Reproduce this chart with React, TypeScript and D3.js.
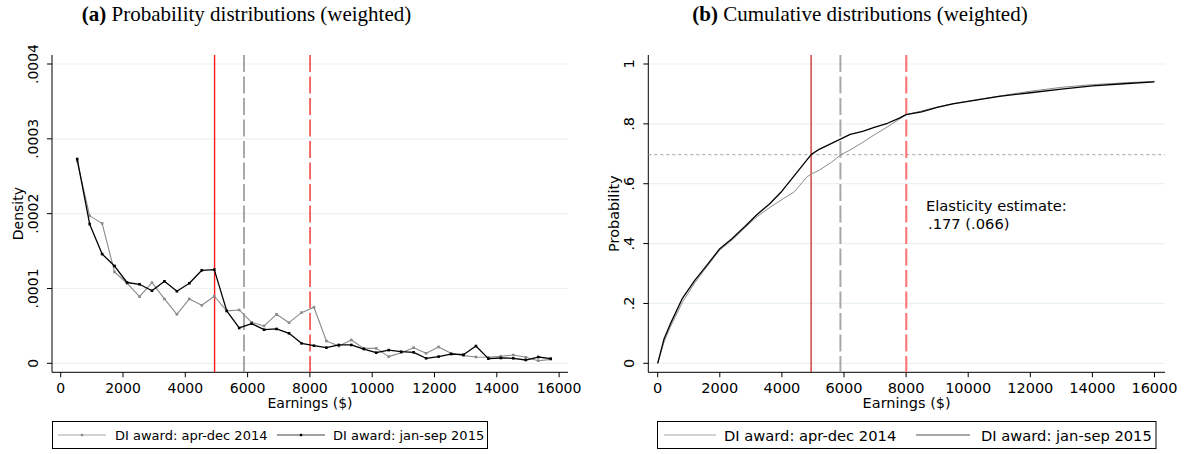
import React, { useEffect, useRef } from "react";
import * as d3 from "d3";

// bin midpoints for the density panel (earnings, $)
const densityEarnings = [
  530, 930, 1330, 1730, 2130, 2530, 2930, 3330, 3730, 4130, 4530, 4930, 5330,
  5730, 6130, 6530, 6930, 7330, 7730, 8130, 8530, 8930, 9330, 9730, 10130,
  10530, 10930, 11330, 11730, 12130, 12530, 12930, 13330, 13730, 14130, 14530,
  14930, 15330, 15730,
];
const density2014 = [
  0.00027, 0.000197, 0.000187, 0.000122, 0.000107, 0.000089, 0.0001078,
  0.000086, 0.0000655, 0.000086, 0.0000775, 0.0000896, 0.00007, 0.0000713,
  0.0000548, 0.0000499, 0.0000655, 0.0000543, 0.0000677, 0.0000749, 0.0000298,
  0.0000231, 0.0000311, 0.00002, 0.00002, 0.0000089, 0.0000142, 0.0000209,
  0.0000134, 0.0000218, 0.0000134, 0.0000102, 0.0000084, 0.000008, 0.0000094,
  0.0000111, 0.000008, 0.0000035, 0.0000053,
];
const density2015 = [
  0.000273, 0.000186, 0.000146, 0.00013, 0.000108, 0.0001056, 0.000097,
  0.0001096, 0.0000963, 0.000107, 0.0001243, 0.0001252, 0.00007, 0.0000472,
  0.000053, 0.0000449, 0.0000459, 0.0000401, 0.0000267, 0.0000235, 0.0000209,
  0.0000245, 0.0000245, 0.0000191, 0.0000142, 0.0000176, 0.0000155, 0.0000147,
  0.0000067, 0.0000089, 0.0000124, 0.0000115, 0.0000231, 0.0000062, 0.0000071,
  0.0000067, 0.0000044, 0.0000084, 0.0000062,
];

// cumulative distributions
const cdfEarnings = [
  0, 200, 400, 800, 1200, 1600, 2000, 2400, 2800, 3200, 3600, 4000, 4400, 4800,
  4950, 5200, 5600, 5900, 6200, 6600, 7000, 7400, 7800, 8000, 8500, 9000, 9500,
  10000, 11000, 12000, 13000, 14000, 15000, 16000,
];
const cdf2014 = [
  0, 0.07, 0.12, 0.205, 0.27, 0.325, 0.378, 0.412, 0.452, 0.49, 0.52, 0.547,
  0.573, 0.622, 0.633, 0.645, 0.672, 0.697, 0.713, 0.738, 0.765, 0.79, 0.817,
  0.831, 0.843, 0.856, 0.867, 0.876, 0.893, 0.909, 0.922, 0.931, 0.937, 0.942,
];
const cdf2015 = [
  0, 0.08, 0.13, 0.218, 0.278, 0.33, 0.383, 0.417, 0.456, 0.497, 0.532, 0.575,
  0.627, 0.679, 0.698, 0.715, 0.735, 0.75, 0.765, 0.775, 0.789, 0.802, 0.82,
  0.831, 0.84, 0.855, 0.867, 0.875, 0.892, 0.904, 0.916, 0.927, 0.934, 0.94,
];

const earningsTicks = [0, 2000, 4000, 6000, 8000, 10000, 12000, 14000, 16000];
const densityTicks = [0, 0.0001, 0.0002, 0.0003, 0.0004];
const densityTickLabels = ["0", ".0001", ".0002", ".0003", ".0004"];
const probTicks = [0, 0.2, 0.4, 0.6, 0.8, 1];
const probTickLabels = ["0", ".2", ".4", ".6", ".8", "1"];
const seriesLabels = ["DI award: apr-dec 2014", "DI award: jan-sep 2015"];

const sgaLine = 4940;
const meanLine = 5885;
const kinkLine = 8005;
const cutoffProb = 0.697;

const SANS = "DejaVu Sans, Verdana, sans-serif";
const SERIF = "Liberation Serif, Times New Roman, serif";
const GRID = "#eaf1f2";

type Frame = { left: number; right: number; top: number; bottom: number };

function drawFrame(
  g: any,
  frame: Frame,
  x: any,
  y: any,
  yTicks: number[],
  yLabels: string[],
  yTitle: string,
  fs: number
) {
  g.append("g")
    .selectAll("line")
    .data(yTicks)
    .join("line")
    .attr("x1", frame.left)
    .attr("x2", frame.right)
    .attr("y1", (d: number) => y(d))
    .attr("y2", (d: number) => y(d))
    .attr("stroke", GRID)
    .attr("stroke-width", 1.2);

  const axes = g.append("g").attr("stroke", "#000").attr("stroke-width", 1);
  axes.append("line")
    .attr("x1", frame.left).attr("x2", frame.left)
    .attr("y1", frame.top).attr("y2", frame.bottom);
  axes.append("line")
    .attr("x1", frame.left).attr("x2", frame.right)
    .attr("y1", frame.bottom).attr("y2", frame.bottom);
  axes.selectAll(".yt")
    .data(yTicks)
    .join("line")
    .attr("class", "yt")
    .attr("x1", frame.left - 5).attr("x2", frame.left)
    .attr("y1", (d: number) => y(d)).attr("y2", (d: number) => y(d));
  axes.selectAll(".xt")
    .data(earningsTicks)
    .join("line")
    .attr("class", "xt")
    .attr("x1", (d: number) => x(d)).attr("x2", (d: number) => x(d))
    .attr("y1", frame.bottom).attr("y2", frame.bottom + 5);

  const labels = g.append("g").attr("font-family", SANS).attr("font-size", fs).attr("fill", "#000");
  labels.selectAll(".yl")
    .data(yTicks)
    .join("text")
    .attr("class", "yl")
    .attr("text-anchor", "middle")
    .attr("transform", (d: number) => `translate(${frame.left - 14}, ${y(d)}) rotate(-90)`)
    .text((_: number, i: number) => yLabels[i]);
  labels.selectAll(".xl")
    .data(earningsTicks)
    .join("text")
    .attr("class", "xl")
    .attr("text-anchor", "middle")
    .attr("x", (d: number) => x(d))
    .attr("y", frame.bottom + 20.5)
    .text((d: number) => String(d));
  labels.append("text")
    .attr("text-anchor", "middle")
    .attr("x", (frame.left + frame.right) / 2)
    .attr("y", frame.bottom + 36)
    .text("Earnings ($)");
  labels.append("text")
    .attr("text-anchor", "middle")
    .attr("transform", `translate(${frame.left - 29.5}, ${(frame.top + frame.bottom) / 2}) rotate(-90)`)
    .text(yTitle);
}

function vline(g: any, x: number, frame: Frame, color: string, width: number, dash?: string) {
  const l = g.append("line")
    .attr("x1", x).attr("x2", x)
    .attr("y1", frame.top).attr("y2", frame.bottom)
    .attr("stroke", color)
    .attr("stroke-width", width);
  if (dash) l.attr("stroke-dasharray", dash);
}

const App = () => {
  const svgRef = useRef<SVGSVGElement>(null);

  useEffect(() => {
    const svg = d3.select(svgRef.current);
    svg.selectAll("*").remove();

    // ---------- (a) density ----------
    const fa: Frame = { left: 52, right: 568, top: 55, bottom: 372.3 };
    const xa = d3.scaleLinear().domain([0, 16000]).range([60.7, 559.1]);
    const ya = d3.scaleLinear().domain([0, 0.0004]).range([363.3, 64]);
    const ga = svg.append("g");

    ga.append("text")
      .attr("x", 246.5).attr("y", 21)
      .attr("text-anchor", "middle")
      .attr("font-family", SERIF).attr("font-size", 21)
      .call((t: any) => {
        t.append("tspan").attr("font-weight", "bold").text("(a)");
        t.append("tspan").text(" Probability distributions (weighted)");
      });

    drawFrame(ga, fa, xa, ya, densityTicks, densityTickLabels, "Density", 14);
    vline(ga, xa(sgaLine), fa, "#ff1a1a", 1.4);
    vline(ga, xa(meanLine), fa, "#8c8c8c", 1.5, "17,4.5");
    vline(ga, xa(kinkLine), fa, "#f03c3c", 1.5, "17,4.5");

    const densLine = d3.line<number>()
      .x((_, i) => xa(densityEarnings[i]))
      .y((d) => ya(d));
    const dSeries = [
      { values: density2014, color: "#8a8a8a", width: 1.1 },
      { values: density2015, color: "#000", width: 1.3 },
    ];
    dSeries.forEach((s) => {
      ga.append("path")
        .datum(s.values)
        .attr("fill", "none")
        .attr("stroke", s.color)
        .attr("stroke-width", s.width)
        .attr("stroke-linejoin", "round")
        .attr("d", densLine);
      ga.append("g")
        .selectAll("rect")
        .data(s.values)
        .join("rect")
        .attr("x", (_: number, i: number) => xa(densityEarnings[i]) - 1.3)
        .attr("y", (d: number) => ya(d) - 1.3)
        .attr("width", 2.6)
        .attr("height", 2.6)
        .attr("fill", s.color);
    });

    // legend (a)
    const la = ga.append("g");
    la.append("rect")
      .attr("x", 52.5).attr("y", 421.5).attr("width", 435).attr("height", 27)
      .attr("fill", "#fff").attr("stroke", "#000").attr("stroke-width", 1);
    const laItems = [
      { x1: 58, x2: 106, tx: 115, color: "#a8a8a8" },
      { x1: 277, x2: 325, tx: 333, color: "#444" },
    ];
    laItems.forEach((it, i) => {
      la.append("line")
        .attr("x1", it.x1).attr("x2", it.x2).attr("y1", 435).attr("y2", 435)
        .attr("stroke", it.color).attr("stroke-width", 1.2);
      la.append("rect")
        .attr("x", (it.x1 + it.x2) / 2 - 1.2).attr("y", 433.8)
        .attr("width", 2.4).attr("height", 2.4).attr("fill", dSeries[i].color);
      la.append("text")
        .attr("x", it.tx).attr("y", 440)
        .attr("font-family", SANS).attr("font-size", 13)
        .text(seriesLabels[i]);
    });

    // ---------- (b) cumulative ----------
    const fb: Frame = { left: 648.3, right: 1165, top: 55, bottom: 372.3 };
    const xb = d3.scaleLinear().domain([0, 16000]).range([657.7, 1154.5]);
    const yb = d3.scaleLinear().domain([0, 1]).range([363.3, 64]);
    const gb = svg.append("g");

    gb.append("text")
      .attr("x", 860).attr("y", 21)
      .attr("text-anchor", "middle")
      .attr("font-family", SERIF).attr("font-size", 21)
      .call((t: any) => {
        t.append("tspan").attr("font-weight", "bold").text("(b)");
        t.append("tspan").text(" Cumulative distributions (weighted)");
      });

    drawFrame(gb, fb, xb, yb, probTicks, probTickLabels, "Probability", 14.5);

    gb.append("line")
      .attr("x1", fb.left).attr("x2", fb.right)
      .attr("y1", yb(cutoffProb)).attr("y2", yb(cutoffProb))
      .attr("stroke", "#a0a0a0").attr("stroke-width", 1)
      .attr("stroke-dasharray", "3,3");
    vline(gb, xb(sgaLine), fb, "#c80000", 1.1);
    vline(gb, xb(meanLine), fb, "#a8a8a8", 2, "17,4.5");
    vline(gb, xb(kinkLine), fb, "#ff7070", 2, "17,4.5");

    const cdfLine = d3.line<number>()
      .x((_, i) => xb(cdfEarnings[i]))
      .y((d) => yb(d));
    const cSeries = [
      { values: cdf2014, color: "#8a8a8a", width: 1 },
      { values: cdf2015, color: "#000", width: 1.3 },
    ];
    cSeries.forEach((s) => {
      gb.append("path")
        .datum(s.values)
        .attr("fill", "none")
        .attr("stroke", s.color)
        .attr("stroke-width", s.width)
        .attr("stroke-linejoin", "round")
        .attr("d", cdfLine);
    });

    const note = gb.append("text")
      .attr("font-family", SANS).attr("font-size", 14.7).attr("fill", "#000");
    note.append("tspan").attr("x", 926).attr("y", 210.5).text("Elasticity estimate:");
    note.append("tspan").attr("x", 928).attr("y", 228.5).text(".177 (.066)");

    // legend (b)
    const lb = gb.append("g");
    lb.append("rect")
      .attr("x", 657.5).attr("y", 421.5).attr("width", 498.5).attr("height", 27)
      .attr("fill", "#fff").attr("stroke", "#000").attr("stroke-width", 1);
    const lbItems = [
      { x1: 664, x2: 716, tx: 724, color: "#a8a8a8" },
      { x1: 916, x2: 970, tx: 981, color: "#555" },
    ];
    lbItems.forEach((it, i) => {
      lb.append("line")
        .attr("x1", it.x1).attr("x2", it.x2).attr("y1", 435).attr("y2", 435)
        .attr("stroke", it.color).attr("stroke-width", 1.2);
      lb.append("text")
        .attr("x", it.tx).attr("y", 440.5)
        .attr("font-family", SANS).attr("font-size", 14.7)
        .text(seriesLabels[i]);
    });
  }, []);

  return (
    <svg
      ref={svgRef}
      width={1191}
      height={454}
      style={{ position: "absolute", left: 0, top: 0, background: "#fff" }}
    />
  );
};

export default App;
